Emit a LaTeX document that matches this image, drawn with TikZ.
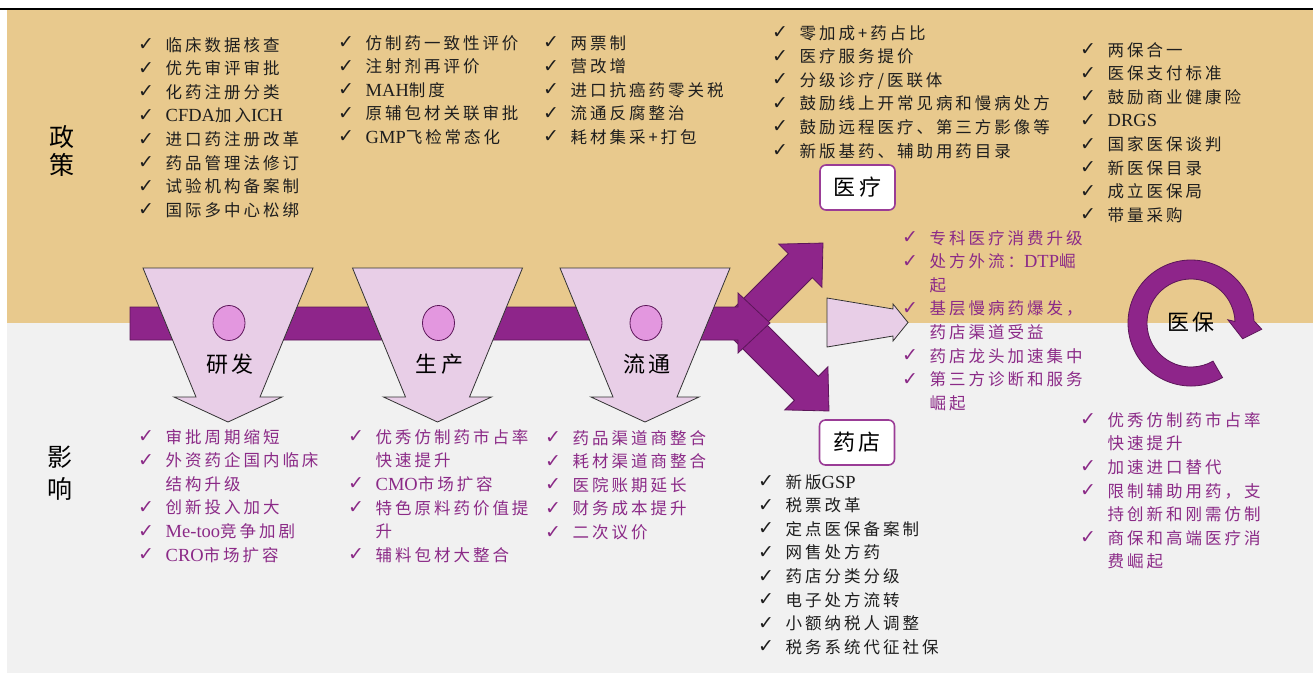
\documentclass[tikz,border=0pt]{standalone}
\usepackage{fontspec}
\setmainfont{Liberation Serif}
\newfontfamily\cjk[LetterSpace=18]{Noto Sans CJK SC}
\newfontfamily\symf{DejaVu Sans}
\newfontfamily\lat{Liberation Serif}
\definecolor{tanbg}{HTML}{E8C98D}
\definecolor{greybg}{HTML}{F1F1F1}
\definecolor{purp}{HTML}{8E258A}
\definecolor{purpdark}{HTML}{5C1659}
\definecolor{lightp}{HTML}{E8CEE7}
\definecolor{circp}{HTML}{E397DF}
\definecolor{impc}{HTML}{8B2A87}
\definecolor{polc}{HTML}{1E1E1E}
\definecolor{boxc}{HTML}{9A3C96}
\newcommand\ck{\makebox[27.5pt][l]{\raisebox{0.5pt}{\symf\bfseries\fontsize{19}{19}\selectfont ✓}}}
\newcommand\ind{\hspace*{27.5pt}}
\newcommand\la[1]{{\lat\fontsize{18.5}{23.6}\selectfont #1}}
\tikzset{
  parrow/.style={fill=purp, draw=purpdark, line width=0.8pt, line join=miter},
  ltrap/.style={fill=lightp, draw=black!80, line width=0.8pt, line join=miter},
  dot/.style={fill=circp, draw=purpdark, line width=0.8pt},
  pol/.style={anchor=north west, inner sep=0pt, align=left, text=polc,
    font=\cjk\fontsize{16.5}{23.6}\selectfont},
  imp/.style={pol, text=impc},
  steplab/.style={inner sep=0pt, text=black, font=\cjk\fontsize{22}{22}\selectfont},
  catbox/.style={draw=boxc, fill=white, line width=1.6pt, rounded corners=6pt,
    minimum width=75pt, minimum height=45pt, inner sep=0pt, text=black,
    font=\cjk\fontsize{22}{22}\selectfont},
  side/.style={inner sep=0pt, text=black, font=\cjk\fontsize{25}{25}\selectfont}
}
\begin{document}
\begin{tikzpicture}[x=1pt,y=-1pt]
\useasboundingbox (0,0) rectangle (1313,673);
\fill[white] (0,0) rectangle (1313,673);
\fill[tanbg] (7,9.5) rectangle (1313,323);
\fill[greybg] (7,323) rectangle (1313,673);
\draw[black, line width=2pt] (0,8.5) -- (1313,8.5);

% diverging arrows (under the head of the main bar)
\begin{scope}[shift={(742,324)}, rotate=45]
  \draw[parrow] (0,-17) -- (82.5,-17) -- (82.5,-30.5) -- (114.5,0) -- (82.5,30.5) -- (82.5,17) -- (0,17) -- cycle;
\end{scope}
\begin{scope}[shift={(742,324)}, rotate=-45]
  \draw[parrow] (0,-17) -- (91,-17) -- (91,-30.5) -- (123,0) -- (91,30.5) -- (91,17) -- (0,17) -- cycle;
\end{scope}

% main flow bar
\draw[parrow] (130,307) -- (738,307) -- (738,293) -- (770,323) -- (738,353) -- (738,340) -- (130,340) -- cycle;

% stage arrows
\foreach \cx/\nm/\t in {228/rd/研发, 437.5/sc/生产, 645/lt/流通}{
  \draw[ltrap] (\cx-85,268) -- (\cx+85,268) -- (\cx+32,397) -- (\cx+54,397) -- (\cx,422)
     -- (\cx-54,397) -- (\cx-32,397) -- cycle;
  \draw[dot] (\cx+1,323) ellipse [x radius=16, y radius=17.5];
  \node[steplab] (\nm) at (\cx+2,364) {\t};
}

\draw[ltrap] (827,298) -- (893,309) -- (893,304) -- (908,322.5) -- (893,341) -- (893,336) -- (827,347) -- cycle;

\node[catbox] (yl) at (857.5,187.5) {医疗};
\node[catbox] (yd) at (857,442.5) {药店};

% medical insurance cycle
\begin{scope}[shift={(1191,323)}, yscale=-1]
  \draw[parrow] (-60:44) -- (-60:63) arc[start angle=-60, end angle=-358, radius=63]
    -- (-365:71) -- (-377:54) -- (-355:37) -- (-358:44)
    arc[start angle=-358, end angle=-60, radius=44] -- cycle;
\end{scope}
\node[steplab] (yb) at (1191,322) {医保};

% side labels
\node[side] (zheng) at (62,137) {政};
\node[side] (ce) at (62,165) {策};
\node[side] (ying) at (60,457) {影};
\node[side] (xiang) at (60,489) {响};

% policy lists
\node[pol] (la) at (138,37) {\ck 临床数据核查\\
\ck 优先审评审批\\
\ck 化药注册分类\\
\ck \la{CFDA}加入\la{ICH}\\
\ck 进口药注册改革\\
\ck 药品管理法修订\\
\ck 试验机构备案制\\
\ck 国际多中心松绑};

\node[pol] (lb) at (338,35) {\ck 仿制药一致性评价\\
\ck 注射剂再评价\\
\ck \la{MAH}制度\\
\ck 原辅包材关联审批\\
\ck \la{GMP}飞检常态化};

\node[pol] (lc) at (543,35) {\ck 两票制\\
\ck 营改增\\
\ck 进口抗癌药零关税\\
\ck 流通反腐整治\\
\ck 耗材集采+打包};

\node[pol] (ld) at (772,25) {\ck 零加成+药占比\\
\ck 医疗服务提价\\
\ck 分级诊疗/医联体\\
\ck 鼓励线上开常见病和慢病处方\\
\ck 鼓励远程医疗、第三方影像等\\
\ck 新版基药、辅助用药目录};

\node[pol] (le) at (1080,42) {\ck 两保合一\\
\ck 医保支付标准\\
\ck 鼓励商业健康险\\
\ck \la{DRGS}\\
\ck 国家医保谈判\\
\ck 新医保目录\\
\ck 成立医保局\\
\ck 带量采购};

\node[pol] (lj) at (758,474) {\ck 新版\la{GSP}\\
\ck 税票改革\\
\ck 定点医保备案制\\
\ck 网售处方药\\
\ck 药店分类分级\\
\ck 电子处方流转\\
\ck 小额纳税人调整\\
\ck 税务系统代征社保};

% impact lists
\node[imp] (lf) at (902,230) {\ck 专科医疗消费升级\\
\ck 处方外流：\la{DTP}崛\\
\ind 起\\
\ck 基层慢病药爆发，\\
\ind 药店渠道受益\\
\ck 药店龙头加速集中\\
\ck 第三方诊断和服务\\
\ind 崛起};

\node[imp] (lg) at (138,429) {\ck 审批周期缩短\\
\ck 外资药企国内临床\\
\ind 结构升级\\
\ck 创新投入加大\\
\ck \la{Me-too}竞争加剧\\
\ck \la{CRO}市场扩容};

\node[imp] (lh) at (348,429) {\ck 优秀仿制药市占率\\
\ind 快速提升\\
\ck \la{CMO}市场扩容\\
\ck 特色原料药价值提\\
\ind 升\\
\ck 辅料包材大整合};

\node[imp] (li) at (545,430) {\ck 药品渠道商整合\\
\ck 耗材渠道商整合\\
\ck 医院账期延长\\
\ck 财务成本提升\\
\ck 二次议价};

\node[imp] (lk) at (1080,412) {\ck 优秀仿制药市占率\\
\ind 快速提升\\
\ck 加速进口替代\\
\ck 限制辅助用药，支\\
\ind 持创新和刚需仿制\\
\ck 商保和高端医疗消\\
\ind 费崛起};
\end{tikzpicture}
\end{document}
